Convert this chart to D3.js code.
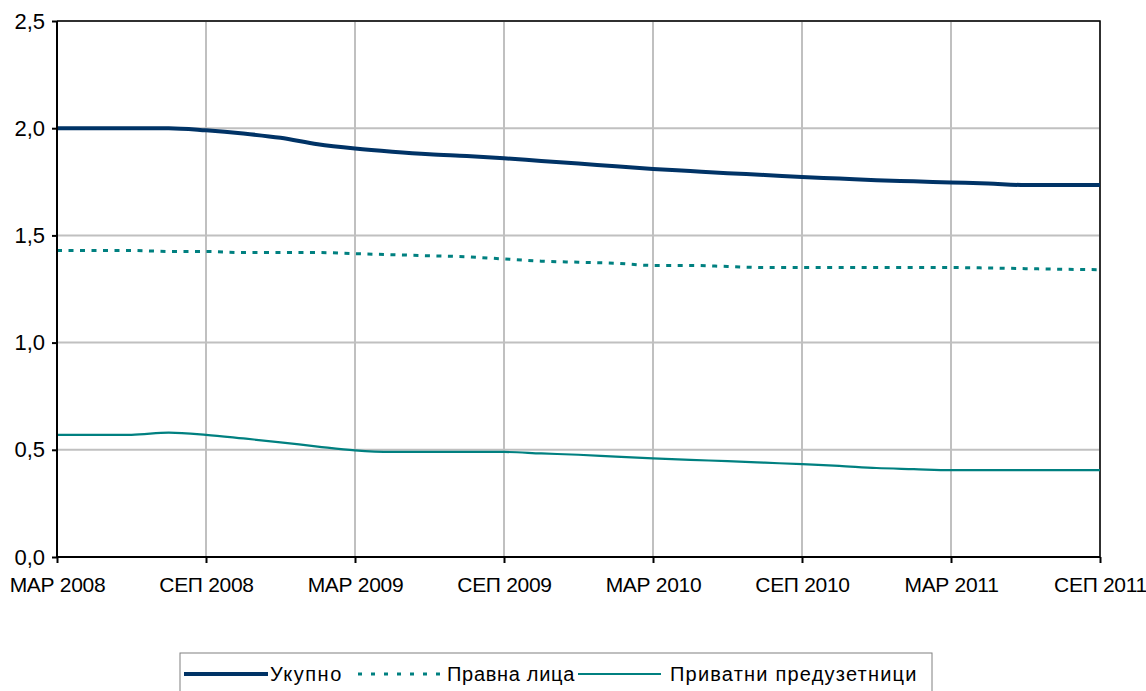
<!DOCTYPE html>
<html>
<head>
<meta charset="utf-8">
<script src="https://cdn.jsdelivr.net/npm/d3@7"></script>
<style>
  body { margin: 0; background: #fff; }
  svg { display: block; font-family: "Liberation Sans", Arial, sans-serif; }
  .grid line { stroke: #c0c0c0; stroke-width: 2; }
  .axis path, .axis line { stroke: #000; stroke-width: 2; }
  .axis text { fill: #000; }
  .yaxis text { font-size: 22px; }
  .xaxis text { font-size: 21px; letter-spacing: -0.3px; }
  .legend text { font-size: 20px; letter-spacing: 1.2px; }
</style>
</head>
<body>
<svg id="chart" width="1146" height="691"></svg>
<script>
// x tick labels, one every 4 points
var tickLabels = ['МАР 2008', 'СЕП 2008', 'МАР 2009', 'СЕП 2009', 'МАР 2010', 'СЕП 2010', 'МАР 2011', 'СЕП 2011']
var yTicks = [0, 0.5, 1.0, 1.5, 2.0, 2.5]

var ukupno = [2.00, 2.00, 2.00, 2.00, 1.99, 1.975, 1.955, 1.925, 1.905, 1.89,
              1.878, 1.87, 1.86, 1.847, 1.835, 1.822, 1.81, 1.80, 1.79, 1.782,
              1.772, 1.765, 1.757, 1.752, 1.747, 1.742, 1.735, 1.735, 1.735]
var pravnaLica = [1.43, 1.43, 1.43, 1.425, 1.425, 1.42, 1.42, 1.42, 1.415, 1.41,
                  1.405, 1.40, 1.39, 1.38, 1.375, 1.37, 1.36, 1.36, 1.355, 1.35,
                  1.35, 1.35, 1.35, 1.35, 1.35, 1.348, 1.345, 1.342, 1.34]
var preduzetnici = [0.57, 0.57, 0.57, 0.58, 0.57, 0.553, 0.535, 0.515, 0.497, 0.49,
                    0.49, 0.49, 0.49, 0.483, 0.477, 0.468, 0.46, 0.453, 0.447, 0.44,
                    0.433, 0.425, 0.415, 0.41, 0.405, 0.405, 0.405, 0.405, 0.405]

var series = [
  {name: 'Укупно', values: ukupno, color: '#003366', width: 4, dash: null}
, {name: 'Правна лица', values: pravnaLica, color: '#008080', width: 3, dash: '5,6.5'}
, {name: 'Приватни предузетници', values: preduzetnici, color: '#008080', width: 2.2, dash: null}
]

var plotLeft = 57
,   plotRight = 1100
,   plotTop = 21
,   plotBottom = 557
,   perTick = 4

var svg = d3.select('#chart')

var x = d3.scaleLinear().domain([0, ukupno.length - 1]).range([plotLeft, plotRight])
var y = d3.scaleLinear().domain([0, 2.5]).range([plotBottom, plotTop])

var tickIdx = tickLabels.map((d, i) => i * perTick)

// gridlines
var grid = svg.append('g').attr('class', 'grid')
grid.selectAll('.gy').data(yTicks.slice(1)).enter()
  .append('line')
  .attr('x1', plotLeft).attr('x2', plotRight)
  .attr('y1', (d) => y(d)).attr('y2', (d) => y(d))
grid.selectAll('.gx').data(tickIdx.slice(1)).enter()
  .append('line')
  .attr('x1', (d) => x(d)).attr('x2', (d) => x(d))
  .attr('y1', plotTop).attr('y2', plotBottom)

// plot border (top and right)
svg.append('path')
  .attr('d', 'M' + plotLeft + ',' + plotTop + 'H' + plotRight + 'V' + plotBottom)
  .attr('fill', 'none').attr('stroke', '#000').attr('stroke-width', 1.5)

// lines
var line = d3.line()
  .x((d, i) => x(i))
  .y((d) => y(d))
  .curve(d3.curveMonotoneX)

svg.selectAll('.series').data(series).enter()
  .append('path')
  .attr('class', 'series')
  .attr('d', (d) => line(d.values))
  .attr('fill', 'none')
  .attr('stroke', (d) => d.color)
  .attr('stroke-width', (d) => d.width)
  .attr('stroke-dasharray', (d) => d.dash)

// axes
var yAxis = d3.axisLeft(y)
  .tickValues(yTicks)
  .tickSize(5)
  .tickPadding(7)
  .tickFormat((d) => d3.format('.1f')(d).replace('.', ','))
svg.append('g').attr('class', 'axis yaxis')
  .attr('transform', 'translate(' + plotLeft + ',0)')
  .call(yAxis)
  .call((g) => g.select('.domain').attr('d', 'M0,' + plotTop + 'V' + plotBottom))

var xAxis = d3.axisBottom(x)
  .tickValues(tickIdx)
  .tickSize(6)
  .tickPadding(14)
  .tickFormat((d) => tickLabels[d / perTick])
svg.append('g').attr('class', 'axis xaxis')
  .attr('transform', 'translate(0,' + plotBottom + ')')
  .call(xAxis)
  .call((g) => g.select('.domain').attr('d', 'M' + plotLeft + ',0H' + plotRight))

// legend
var legend = svg.append('g').attr('class', 'legend').attr('transform', 'translate(180,653)')
legend.append('rect')
  .attr('width', 752).attr('height', 42)
  .attr('fill', '#fff').attr('stroke', '#808080').attr('stroke-width', 1)

var legendItems = [
  {s: series[0], x1: 4, x2: 88, tx: 90, ls: 1.5}
, {s: series[1], x1: 178, x2: 262, tx: 267, ls: 0.7}
, {s: series[2], x1: 398, x2: 481, tx: 490, ls: 1.2}
]
legendItems.forEach((it) => {
  legend.append('line')
    .attr('x1', it.x1).attr('x2', it.x2)
    .attr('y1', 21).attr('y2', 21)
    .attr('stroke', it.s.color)
    .attr('stroke-width', it.s.width)
    .attr('stroke-dasharray', it.s.dash ? '4,9' : null)
  legend.append('text')
    .attr('x', it.tx).attr('y', 28)
    .style('letter-spacing', it.ls + 'px')
    .text(it.s.name)
})
</script>
</body>
</html>
